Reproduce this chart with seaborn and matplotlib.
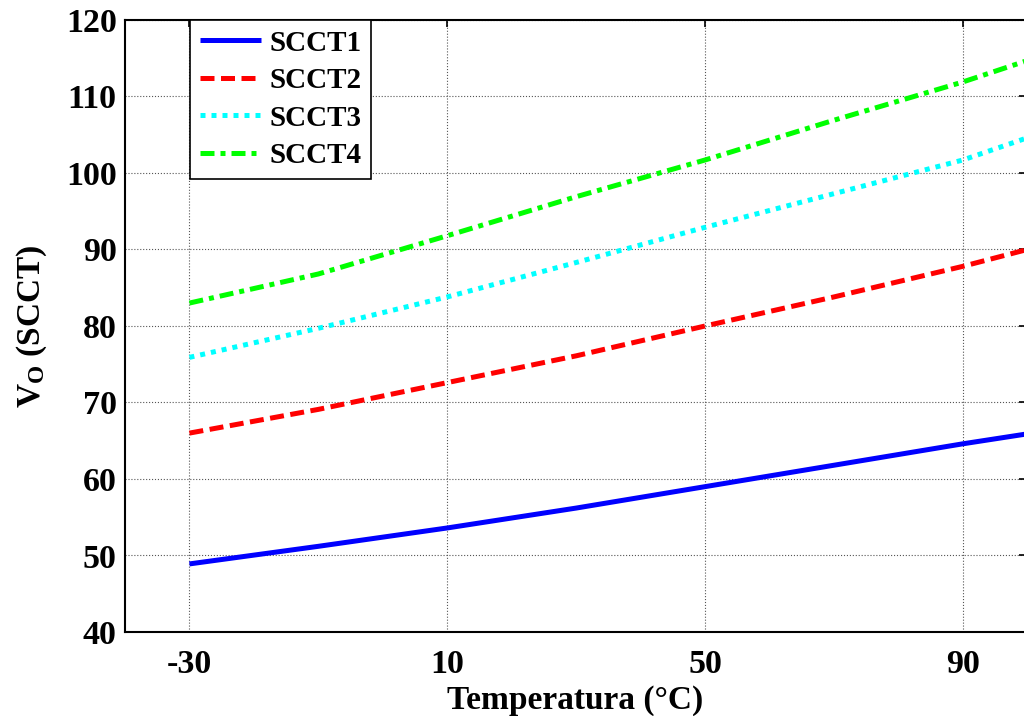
import numpy as np
import pandas as pd
import matplotlib
matplotlib.use("Agg")
import matplotlib.pyplot as plt
import seaborn as sns

# ---- data ----
temperature = [-30, -10, 10, 30, 50, 70, 90, 100]
scct1 = [48.9, 51.2, 53.6, 56.2, 59.0, 61.8, 64.6, 65.9]
scct2 = [66.0, 69.1, 72.6, 76.1, 80.0, 83.8, 87.8, 90.0]
scct3 = [75.9, 79.7, 83.8, 88.3, 92.9, 97.3, 101.7, 104.6]
scct4 = [83.0, 86.8, 91.8, 96.9, 101.7, 106.9, 111.9, 114.7]
series_names = ["SCCT1", "SCCT2", "SCCT3", "SCCT4"]
x_ticks = [-30, 10, 50, 90]
y_ticks = [40, 50, 60, 70, 80, 90, 100, 110, 120]

frames = []
for name, vals in zip(series_names, [scct1, scct2, scct3, scct4]):
    frames.append(pd.DataFrame({"T": temperature, "V": vals, "Serie": name}))
df = pd.concat(frames, ignore_index=True)

sns.set_style("white")
plt.rcParams["font.family"] = ["Liberation Serif", "DejaVu Serif"]
plt.rcParams["font.weight"] = "bold"
plt.rcParams["text.color"] = "black"
plt.rcParams["axes.labelcolor"] = "black"
plt.rcParams["xtick.color"] = "black"
plt.rcParams["ytick.color"] = "black"
plt.rcParams["mathtext.fontset"] = "custom"
plt.rcParams["mathtext.rm"] = "Liberation Serif:bold"
plt.rcParams["mathtext.bf"] = "Liberation Serif:bold"
plt.rcParams["mathtext.it"] = "Liberation Serif:bold"

fig = plt.figure(figsize=(10.24, 7.16), dpi=100)
ax = fig.add_axes([125/1024, (716-632)/716, (1026-125)/1024, (632-20)/716])

palette = {"SCCT1": "#0000ff", "SCCT2": "#ff0000", "SCCT3": "#00ffff", "SCCT4": "#00ff00"}
dashes = {"SCCT1": "", "SCCT2": (2.8, 1.3), "SCCT3": (1.0, 1.2), "SCCT4": (2.8, 1.2, 1.0, 1.2)}

sns.lineplot(data=df, x="T", y="V", hue="Serie", style="Serie", palette=palette,
             dashes=dashes, linewidth=3.6, ax=ax, legend=True)
for ln in ax.get_lines():
    ln.set_dash_capstyle("butt")
    ln.set_solid_capstyle("butt")

ax.set_xlim(-40, 99.8)
ax.set_ylim(40, 120)
ax.set_xticks(x_ticks)
ax.set_yticks(y_ticks)
ax.set_xticklabels([str(v) for v in x_ticks])
ax.set_yticklabels([str(v) for v in y_ticks])
ax.tick_params(axis="both", which="both", direction="in", length=5, width=1.2,
               top=True, right=True, labelsize=24.5, colors="black", labelcolor="black")
ax.tick_params(axis="x", pad=12)
ax.tick_params(axis="y", pad=6)
for lab in ax.get_xticklabels() + ax.get_yticklabels():
    lab.set_fontweight("bold")
    lab.set_color("black")
ax.grid(True, linestyle=":", linewidth=0.8, color="#555555")
for sp in ax.spines.values():
    sp.set_color("black")
    sp.set_linewidth(1.5)
    sp.set_visible(True)

ax.set_xlabel("Temperatura (°C)", fontsize=24, fontweight="bold", labelpad=4, color="black")
ax.set_ylabel(r"$\mathbf{V_O}$ (SCCT)", fontsize=24, fontweight="bold", labelpad=12, color="black")

handles, labels = ax.get_legend_handles_labels()
leg = ax.legend(handles, labels, loc="upper left", bbox_to_anchor=((190-125)/901, 1.0),
                borderaxespad=0, frameon=True, fancybox=False, framealpha=1,
                edgecolor="black", handlelength=2.1, handletextpad=0.3,
                labelspacing=0.36, borderpad=0.33,
                prop={"family": ["Liberation Serif"], "weight": "bold", "size": 21})
leg.get_frame().set_linewidth(1.2)
for t in leg.get_texts():
    t.set_color("black")
for ln in leg.get_lines():
    ln.set_linewidth(3.6)
    ln.set_dash_capstyle("butt")

fig.savefig("out.png", dpi=100)
